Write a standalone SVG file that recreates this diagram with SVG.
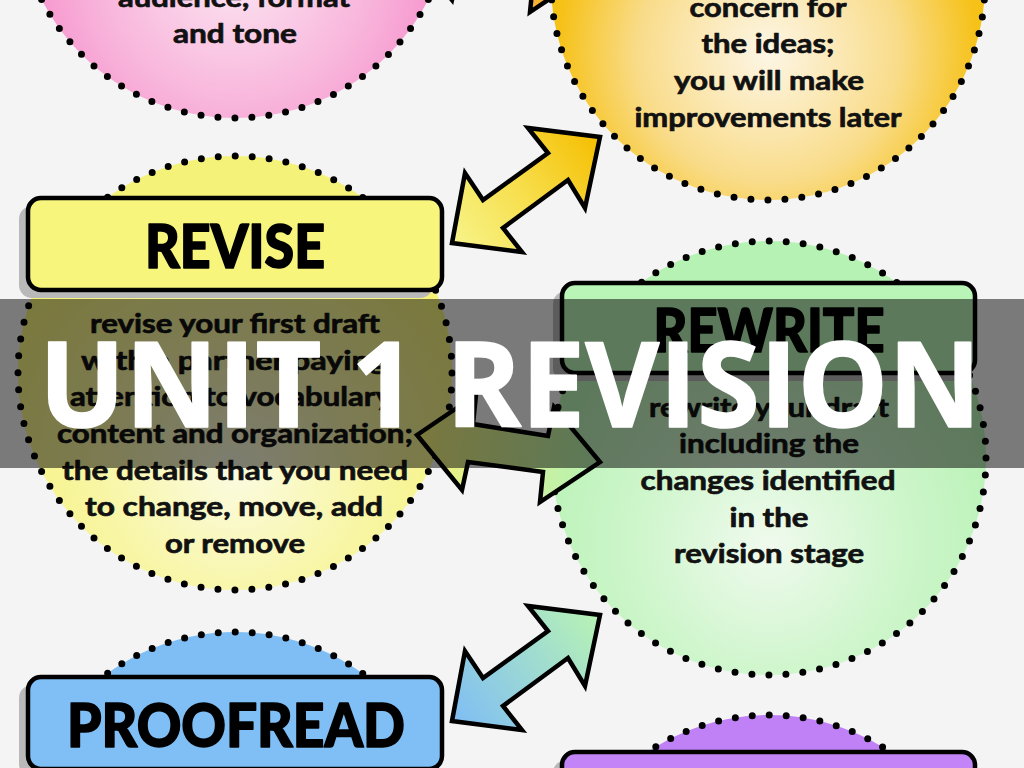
<svg xmlns="http://www.w3.org/2000/svg" width="1024" height="768" viewBox="0 0 1024 768">
<defs>
<style>
.ring{stroke:#000;stroke-width:7;stroke-dasharray:0 17.04;stroke-linecap:round}
.box{stroke:#000;stroke-width:4.5}
.shadow{fill:#b9b9b9}
.head{font-family:Lato,"Liberation Sans",sans-serif;font-weight:900;font-size:60px;fill:#000;stroke:#000;stroke-width:1.6;stroke-linejoin:round;text-anchor:middle}
.body{font-family:Lato,"Liberation Sans",sans-serif;font-weight:bold;font-size:27px;fill:#111;stroke:#111;stroke-width:0.7;stroke-linejoin:round;text-anchor:middle}
.arrow{stroke:#000;stroke-width:4.5;stroke-linejoin:miter}
.banner-text{font-family:"Open Sans","Liberation Sans",sans-serif;font-weight:bold;font-size:119px;fill:#fff;stroke:#fff;stroke-width:1.5;stroke-linejoin:round}
</style>
<radialGradient id="gPink" cx="0.5" cy="0.66" r="0.6"><stop offset="0" stop-color="#fce6f2"/><stop offset="0.55" stop-color="#f8b2da"/><stop offset="1" stop-color="#f57cc3"/></radialGradient>
<radialGradient id="gOrange" cx="0.5" cy="0.66" r="0.6"><stop offset="0" stop-color="#fdf6e6"/><stop offset="0.5" stop-color="#f9dc8a"/><stop offset="0.8" stop-color="#f6c21a"/><stop offset="1" stop-color="#f5bd00"/></radialGradient>
<radialGradient id="gYellow" cx="0.5" cy="0.72" r="0.6"><stop offset="0" stop-color="#fbfbe2"/><stop offset="0.5" stop-color="#f8f6a6"/><stop offset="1" stop-color="#f5f27a"/></radialGradient>
<radialGradient id="gGreen" cx="0.5" cy="0.7" r="0.6"><stop offset="0" stop-color="#f0faee"/><stop offset="0.5" stop-color="#cff6cc"/><stop offset="1" stop-color="#b6f2b3"/></radialGradient>
<radialGradient id="gBlue" cx="0.5" cy="0.7" r="0.6"><stop offset="0" stop-color="#a9d6f8"/><stop offset="1" stop-color="#7fbef4"/></radialGradient>
<radialGradient id="gPurple" cx="0.5" cy="0.7" r="0.6"><stop offset="0" stop-color="#d6a9f8"/><stop offset="1" stop-color="#c181f6"/></radialGradient>
<linearGradient id="aTop" gradientUnits="userSpaceOnUse" x1="407" y1="-55" x2="590" y2="-28"><stop offset="0" stop-color="#f58cc8"/><stop offset="1" stop-color="#f6c000"/></linearGradient>
<linearGradient id="a1" gradientUnits="userSpaceOnUse" x1="452" y1="243" x2="600" y2="137"><stop offset="0" stop-color="#f7f48a"/><stop offset="0.45" stop-color="#f7e050"/><stop offset="1" stop-color="#f5be00"/></linearGradient>
<linearGradient id="a2" gradientUnits="userSpaceOnUse" x1="417" y1="435" x2="600" y2="462"><stop offset="0" stop-color="#f5f07c"/><stop offset="1" stop-color="#b6f2b3"/></linearGradient>
<linearGradient id="a3" gradientUnits="userSpaceOnUse" x1="452" y1="721" x2="600" y2="615"><stop offset="0" stop-color="#7fbdf5"/><stop offset="1" stop-color="#b8f3b4"/></linearGradient>
</defs>
<rect x="0" y="0" width="1024" height="768" fill="#f4f4f4"/>

<g id="node-pink">
<circle cx="235" cy="-99" r="217" fill="url(#gPink)"/>
<circle cx="235" cy="-99" r="217" fill="none" class="ring"/>
<text class="body" x="234" y="7" textLength="232" lengthAdjust="spacingAndGlyphs">audience, format</text>
<text class="body" x="235" y="43" textLength="124" lengthAdjust="spacingAndGlyphs">and tone</text>
</g>

<g id="node-orange">
<circle cx="768" cy="-17" r="217" fill="url(#gOrange)"/>
<circle cx="768" cy="-17" r="217" fill="none" class="ring"/>
<text class="body" x="768" y="17" textLength="157" lengthAdjust="spacingAndGlyphs">concern for</text>
<text class="body" x="768" y="53" textLength="133" lengthAdjust="spacingAndGlyphs">the ideas;</text>
<text class="body" x="769" y="90" textLength="190" lengthAdjust="spacingAndGlyphs">you will make</text>
<text class="body" x="768" y="127" textLength="267" lengthAdjust="spacingAndGlyphs">improvements later</text>
</g>

<g id="node-revise">
<circle cx="235" cy="373" r="217" fill="url(#gYellow)"/>
<circle cx="235" cy="373" r="217" fill="none" class="ring"/>
<rect class="shadow" x="19" y="206" width="414" height="92" rx="13"/>
<rect class="box" x="28" y="198" width="414" height="92" rx="13" fill="#f7f57c"/>
<text class="head" x="235" y="268" textLength="180" lengthAdjust="spacingAndGlyphs">REVISE</text>
<text class="body" x="235" y="333" textLength="290" lengthAdjust="spacingAndGlyphs">revise your first draft</text>
<text class="body" x="234" y="370" textLength="306" lengthAdjust="spacingAndGlyphs">with a partner paying</text>
<text class="body" x="234" y="406" textLength="328" lengthAdjust="spacingAndGlyphs">attention to vocabulary,</text>
<text class="body" x="235" y="443" textLength="356" lengthAdjust="spacingAndGlyphs">content and organization;</text>
<text class="body" x="235" y="480" textLength="346" lengthAdjust="spacingAndGlyphs">the details that you need</text>
<text class="body" x="234" y="516" textLength="298" lengthAdjust="spacingAndGlyphs">to change, move, add</text>
<text class="body" x="235" y="553" textLength="140" lengthAdjust="spacingAndGlyphs">or remove</text>
</g>

<g id="node-rewrite">
<circle cx="769" cy="458" r="217" fill="url(#gGreen)"/>
<circle cx="769" cy="458" r="217" fill="none" class="ring"/>
<rect class="shadow" x="553" y="291" width="413" height="90" rx="13"/>
<rect class="box" x="562" y="283" width="413" height="90" rx="13" fill="#b9f5b7"/>
<text class="head" x="769" y="352" textLength="231" lengthAdjust="spacingAndGlyphs">REWRITE</text>
<text class="body" x="769" y="417" textLength="240" lengthAdjust="spacingAndGlyphs">rewrite your draft</text>
<text class="body" x="769" y="453" textLength="180" lengthAdjust="spacingAndGlyphs">including the</text>
<text class="body" x="768" y="490" textLength="255" lengthAdjust="spacingAndGlyphs">changes identified</text>
<text class="body" x="769" y="527" textLength="79" lengthAdjust="spacingAndGlyphs">in the</text>
<text class="body" x="769" y="563" textLength="190" lengthAdjust="spacingAndGlyphs">revision stage</text>
</g>

<g id="node-proofread">
<circle cx="235" cy="849" r="217" fill="url(#gBlue)"/>
<circle cx="235" cy="849" r="217" fill="none" class="ring"/>
<rect class="shadow" x="19" y="685" width="414" height="92" rx="13"/>
<rect class="box" x="28" y="677" width="414" height="92" rx="13" fill="#7fbff5"/>
<text class="head" x="236" y="747" textLength="338" lengthAdjust="spacingAndGlyphs">PROOFREAD</text>
</g>

<g id="node-purple">
<circle cx="769" cy="932" r="217" fill="url(#gPurple)"/>
<circle cx="769" cy="932" r="217" fill="none" class="ring"/>
<rect class="shadow" x="553" y="760" width="413" height="92" rx="13"/>
<rect class="box" x="562" y="752" width="413" height="92" rx="13" fill="#c284f7"/>
</g>

<g id="connectors">
<polygon class="arrow" fill="url(#aTop)" points="407,-55 466,-95 463,-66 538,-54 544,-83 590,-28 530,12 533,-18 458,-28 452,0"/>
<polygon class="arrow" fill="url(#a1)" points="452,243 465,173 483,200 548,153 528,128 600,137 585,208 568,180 503,228 522,252"/>
<polygon class="arrow" fill="url(#a2)" points="417,435 476,395 473,424 548,436 554,407 600,462 540,502 543,472 468,462 462,490"/>
<polygon class="arrow" fill="url(#a3)" points="452,721 465,651 483,678 548,631 528,606 600,615 585,686 568,658 503,706 522,730"/>
</g>

<g id="banner">
<rect x="0" y="299" width="1024" height="169" fill="#000" fill-opacity="0.5"/>
<text class="banner-text" x="39" y="427" textLength="942" lengthAdjust="spacingAndGlyphs">UNIT 1 REVISION</text>
</g>
</svg>
